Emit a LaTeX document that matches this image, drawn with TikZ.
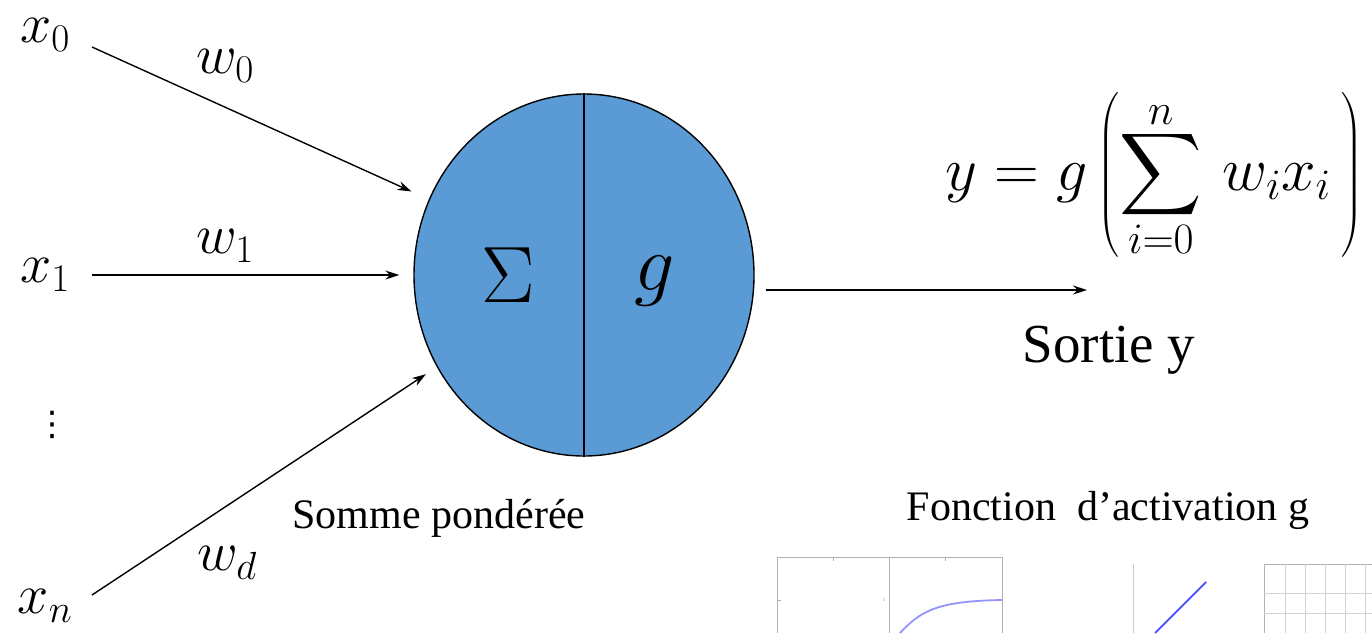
\RequirePackage{fix-cm}
\documentclass[tikz,border=0pt]{standalone}
\usepackage{amsmath}
\usepackage{graphicx}
\usepackage{fontspec}
\setmainfont{Liberation Serif}
\newfontfamily\symfont{DejaVu Sans}
\usetikzlibrary{shapes.geometric,arrows.meta}
\definecolor{neuronblue}{HTML}{5B9BD5}
\newcommand{\bigsum}{\mathop{\vcenter{\hbox{\scalebox{2.3}{$\displaystyle\sum$}}}}\limits}

\begin{document}
\begin{tikzpicture}[x=1pt, y=-1pt,
      inp/.style={font=\fontsize{56}{60}\selectfont, inner sep=0pt},
      big/.style={font=\fontsize{80}{90}\selectfont, inner sep=0pt},
      caption/.style={font=\fontsize{42}{48}\selectfont, inner sep=0pt},
      arr/.style={-{Stealth[length=14pt,width=9pt]}, line width=1.4pt},
      frame/.style={draw=gray!60, line width=0.8pt},
      curve/.style={draw=blue!70, line width=1.8pt}]
    \useasboundingbox (0,0) rectangle (1372,633);
    % neurone
    \node[ellipse, draw, line width=1.4pt, fill=neuronblue, inner sep=0pt,
          minimum width=340pt, minimum height=362pt] (neuron) at (584,275) {};
    \draw[line width=1.6pt] (neuron.north) -- (neuron.south);
    \node[big] (sum) at (508,275) {$\Sigma$};
    \node[big] (act) at (655,281) {$g$};
    % entrees et poids
    \foreach \nm/\y/\lab in {x0/35/x_0, x1/275/x_1, xn/606/x_n}
      \node[inp] (\nm) at (45,\y) {$\lab$};
    \node[font=\symfont\fontsize{34}{36}\selectfont, inner sep=0pt] (dots) at (52,425) {⋮};
    \foreach \nm/\x/\y/\lab in {w0/225/66/w_0, w1/225/246/w_1, wd/227/563/w_d}
      \node[inp] (\nm) at (\x,\y) {$\lab$};
    \foreach \nm/\tx/\ty/\ang/\gap in {x0/92/47/154/19, x1/92/275/180/14, xn/92/595/212/13} {
      \coordinate (\nm tail) at (\tx,\ty);
      \draw[arr, shorten >=\gap pt] (\nm tail) -- (neuron.\ang);
    }
    % sortie
    \coordinate (out) at (1087,290);
    \draw[arr] ([shift={(11,15)}]neuron.east) -- (out);
    \node[inp, font=\fontsize{62}{70}\selectfont] (formula) at (1154,175)
      {$y = g\left(\bigsum_{i=0}^{n}\, w_i x_i\,\right)$};
    \node[caption, font=\fontsize{55}{60}\selectfont] (sortie) at (1109,350) {Sortie y};
    \node[caption] (somme) at (439,518) {Somme pondérée};
    \node[caption] (fonction) at (1108,510) {Fonction\ \ d’activation g};
    % fonctions d'activation
    \draw[frame] (777,633) -- (777,557) -- (1002,557) -- (1002,633);
    \draw[frame] (889,557) -- (889,633);
    \foreach \x in {833,945}
      \draw[frame] (\x,557) -- (\x,561);
    \draw[frame] (777,600) -- (781,600);
    \node[font=\tiny, text=gray] (one) at (884,600) {1};
    \draw[curve, opacity=0.6] (900,633) .. controls (920,612) and (935,601) .. (1002,600);
    \draw[draw=gray!40, line width=0.6pt] (1133,564) -- (1133,633);
    \draw[curve] (1155,633) -- (1206,582);
    \draw[frame] (1264,633) -- (1264,564) -- (1372,564);
    \foreach \x in {1285,1305,1325,1345,1365}
      \draw[draw=gray!35, line width=0.6pt] (\x,564) -- (\x,633);
    \foreach \y in {593,613}
      \draw[draw=gray!35, line width=0.6pt] (1264,\y) -- (1372,\y);
  \end{tikzpicture}
\end{document}
